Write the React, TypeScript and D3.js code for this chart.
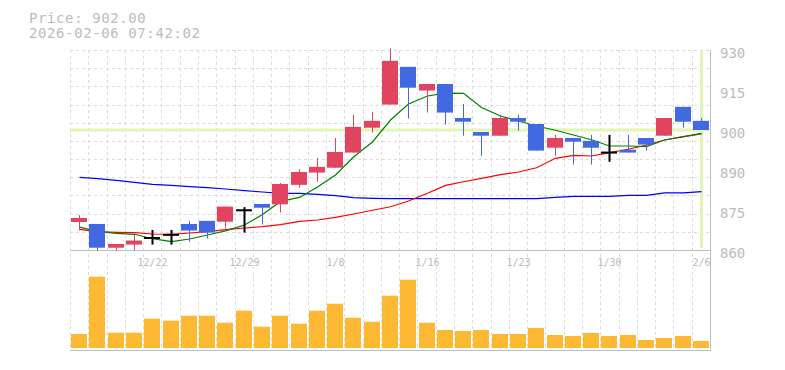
import * as d3 from "d3";

const width = 785;
const height = 370;

const dates = [
  "12/16", "12/17", "12/18", "12/19", "12/22", "12/23", "12/24", "12/25", "12/26",
  "12/29", "12/30", "1/5", "1/6", "1/7", "1/8", "1/9", "1/13", "1/14", "1/15",
  "1/16", "1/19", "1/20", "1/21", "1/22", "1/23", "1/26", "1/27", "1/28", "1/29",
  "1/30", "2/2", "2/3", "2/4", "2/5", "2/6",
];
const opens = [
  869.8, 869.1, 860.8, 861.9, 864.2, 865.3, 869.1, 870.2, 869.9, 873.9, 876.1, 876.0,
  882.8, 887.1, 888.8, 894.1, 902.8, 910.9, 924.1, 915.8, 918.1, 906.2, 901.3, 900.0,
  906.2, 904.1, 895.8, 899.2, 898.2, 894.1, 895.1, 899.2, 900.0, 910.1, 905.2,
];
const highs = [
  872.2, 869.1, 862.1, 865.3, 867.0, 867.0, 870.2, 870.2, 875.2, 875.0, 876.1, 883.5,
  888.3, 892.2, 899.2, 907.3, 908.3, 930.5, 924.1, 918.1, 918.1, 911.1, 901.3, 907.3,
  907.3, 904.1, 900.3, 899.2, 900.3, 900.3, 900.3, 899.2, 906.2, 910.1, 906.2,
];
const lows = [
  866.8, 859.8, 859.8, 859.8, 861.9, 861.9, 862.9, 864.0, 867.6, 866.1, 868.9, 873.1,
  881.8, 883.9, 888.8, 894.1, 901.1, 910.9, 906.0, 908.1, 903.9, 900.0, 893.0, 900.0,
  901.8, 894.8, 893.0, 889.9, 889.9, 890.9, 894.1, 894.8, 900.0, 902.8, 902.0,
];
const closes = [
  871.2, 860.8, 862.1, 863.3, 864.2, 865.3, 866.8, 866.1, 875.2, 873.9, 874.8, 883.1,
  887.3, 889.1, 894.3, 903.1, 905.2, 926.2, 916.8, 918.1, 908.1, 904.9, 900.0, 906.2,
  904.9, 894.8, 899.2, 897.9, 895.8, 894.1, 894.1, 896.9, 906.2, 904.9, 902.0,
];
const volumes = [
  140, 713, 153, 153, 293, 273, 323, 323, 253, 373, 213, 323, 243, 373, 443, 303, 263,
  523, 683, 253, 180, 170, 180, 140, 140, 200, 130, 120, 150, 120, 130, 80, 100, 120, 70,
];
const maShort = [
  868.0, 866.5, 865.8, 865.5, 863.95, 862.9, 863.85, 865.25, 866.7, 868.75, 872.4, 877.0,
  878.4, 882.05, 886.25, 892.55, 897.8, 905.5, 911.1, 913.9, 914.9, 914.85, 909.9, 906.9,
  905.15, 903.4, 901.9, 900.25, 898.6, 896.4, 896.4, 896.2, 898.5, 899.65, 900.85,
];
const maMid = [
  867.2, 866.4, 866.2, 866.05, 865.6, 865.5, 865.95, 866.4, 867.1, 867.7, 868.2, 868.9,
  870.0, 870.5, 871.4, 872.6, 873.9, 875.15, 877.15, 879.85, 882.6, 883.9, 885.1, 886.35,
  887.3, 888.8, 892.1, 893.15, 892.9, 894.1, 895.25, 896.75, 898.5, 899.65, 900.6,
];
const maLong = [
  885.45, 885.0, 884.4, 883.7, 883.0, 882.6, 882.2, 881.8, 881.35, 880.8, 880.3, 879.85,
  879.8, 879.5, 879.0, 878.3, 878.1, 878.0, 878.0, 878.0, 878.0, 878.0, 878.0, 878.0,
  878.0, 878.0, 878.4, 878.8, 878.8, 878.8, 879.1, 879.1, 880.0, 880.0, 880.4,
];
const xTickLabels = ["12/22", "12/29", "1/8", "1/16", "1/23", "1/30", "2/6"];
const yTickValues = [930, 916, 902, 888, 874, 860];
const yTickLabels = ["930", "915", "900", "890", "875", "860"];
const lastPrice = 902.0;
const titleLines = ["Price: 902.00", "2026-02-06 07:42:02"];

const left = 70;
const right = 710;
const top = 50;
const bottom = 250;
const volBottom = 350;

const upColor = "#e0445f";
const downColor = "#4169e1";
const gridColor = "#dcdcdc";
const axisColor = "#bdbdbd";
const textColor = "#bcbcbc";
const markColor = "#e3f5b2";
const mono = "'DejaVu Sans Mono', 'Liberation Mono', monospace";

export default function App() {
  const x = d3
    .scaleBand<string>()
    .domain(dates)
    .range([left, right])
    .paddingInner(0.125)
    .paddingOuter(0.0625);
  const bw = x.bandwidth();
  const step = x.step();
  const cx = (d: string) => Math.round((x(d) ?? 0) + bw / 2) + 0.5;

  const y = d3.scaleLinear().domain([860, 930]).range([bottom, top]);
  const yv = d3.scaleLinear().domain([0, 720]).range([348, 276]);

  const gridY = d3.range(12).map((k) => 860 + (k * 70) / 11);
  const gridX = d3.range(dates.length).map((i) => (x(dates[i]) ?? 0) - (step - bw) / 2);
  const labelY = d3.scalePoint<string>().domain(yTickLabels).range([top, bottom]);

  const line = (vals: number[]) =>
    d3
      .line<number>()
      .x((_, i) => cx(dates[i]))
      .y((v) => y(v))(vals) ?? "";

  const lastX = cx(dates[dates.length - 1]);

  return (
    <svg
      width={width}
      height={height}
      style={{ position: "absolute", left: 0, top: 0, background: "#fff" }}
    >
      {titleLines.map((t, i) => (
        <text
          key={t}
          x={29}
          y={23 + i * 15}
          fontFamily={mono}
          fontSize={14}
          letterSpacing={0.6}
          fill={textColor}
        >
          {t}
        </text>
      ))}

      {/* grid */}
      {gridY.map((v) => (
        <line
          key={`gy${v}`}
          x1={left}
          x2={right}
          y1={Math.round(y(v)) + 0.5}
          y2={Math.round(y(v)) + 0.5}
          stroke={gridColor}
          strokeDasharray="3,3"
        />
      ))}
      {gridX.map((gx, i) => (
        <line
          key={`gx${i}`}
          x1={Math.round(gx) + 0.5}
          x2={Math.round(gx) + 0.5}
          y1={top}
          y2={volBottom}
          stroke={gridColor}
          strokeDasharray="3,3"
        />
      ))}

      {/* current price marks */}
      <line x1={left} x2={right} y1={y(lastPrice)} y2={y(lastPrice)} stroke={markColor} strokeWidth={3} />
      <line x1={lastX} x2={lastX} y1={top + 1} y2={bottom - 2} stroke={markColor} strokeWidth={3} />

      {/* axes */}
      <line x1={left} x2={right} y1={bottom + 0.5} y2={bottom + 0.5} stroke={axisColor} />
      <line x1={left} x2={right} y1={volBottom + 0.5} y2={volBottom + 0.5} stroke={axisColor} />
      <line x1={right + 0.5} x2={right + 0.5} y1={top} y2={volBottom + 1} stroke={axisColor} />

      {/* moving averages */}
      <path d={line(maLong)} fill="none" stroke="#0000ff" strokeWidth={1.2} />
      <path d={line(maMid)} fill="none" stroke="#ff0000" strokeWidth={1.2} />
      <path d={line(maShort)} fill="none" stroke="#008000" strokeWidth={1.2} />

      {/* candles */}
      {dates.map((d, i) => {
        const o = opens[i];
        const c = closes[i];
        const xc = cx(d);
        const x0 = Math.round(x(d) ?? 0);
        if (o === c) {
          return (
            <g key={d} stroke="#000" strokeWidth={2}>
              <line x1={xc} x2={xc} y1={y(highs[i])} y2={y(lows[i])} />
              <line x1={x0} x2={x0 + bw} y1={y(c)} y2={y(c)} />
            </g>
          );
        }
        const col = c > o ? upColor : downColor;
        return (
          <g key={d}>
            <line x1={xc} x2={xc} y1={y(highs[i])} y2={y(lows[i])} stroke={col} />
            <rect
              x={x0}
              width={bw}
              y={y(Math.max(o, c))}
              height={Math.max(1, Math.abs(y(o) - y(c)))}
              fill={col}
            />
          </g>
        );
      })}

      {/* volume */}
      {dates.map((d, i) => (
        <rect
          key={`v${d}`}
          x={Math.round(x(d) ?? 0)}
          width={bw}
          y={yv(volumes[i])}
          height={yv(0) - yv(volumes[i])}
          fill="#fdb933"
        />
      ))}

      {/* labels */}
      {xTickLabels.map((t) => (
        <text
          key={`xl${t}`}
          x={cx(t)}
          y={266}
          textAnchor="middle"
          fontFamily={mono}
          fontSize={10}
          fill={textColor}
        >
          {t}
        </text>
      ))}
      {yTickLabels.map((t, i) => (
        <text
          key={`yl${t}`}
          x={720}
          y={(labelY(t) ?? y(yTickValues[i])) + 7.5}
          fontFamily={mono}
          fontSize={14}
          fill={textColor}
        >
          {t}
        </text>
      ))}
    </svg>
  );
}
